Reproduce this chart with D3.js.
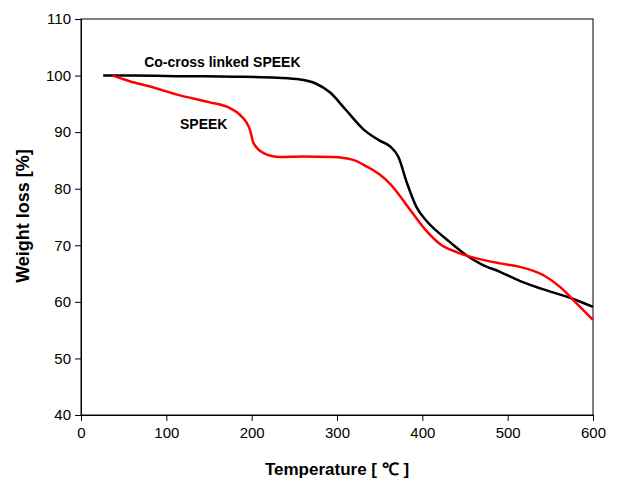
<!DOCTYPE html>
<html><head><meta charset="utf-8">
<script src="https://cdn.jsdelivr.net/npm/d3@7"></script>
<style>body{margin:0;background:#fff}svg{display:block}</style>
</head><body>
<svg id="c" width="617" height="482"></svg>
<script>
const xTicks = [0,100,200,300,400,500,600];
const yTicks = [40,50,60,70,80,90,100,110];
const crossT = [26,60,120,180,230,257,275,292,310,331,350,362,372,382,393,405,420,432,452,470,491,514,540,577,600];
const crossW = [100,100,99.9,99.8,99.6,99.3,98.6,97.0,94.0,90.5,88.5,87.5,85.6,81.0,76.8,74.3,72.1,70.6,68.2,66.6,65.3,63.7,62.3,60.5,59.1];
const speekT = [37,45,57,80,116,150,175,186,198,202,214,233,260,295,319,335,350,362,386,405,421,440,456,491,514,542,561,581,600];
const speekW = [100,99.6,99.0,98.1,96.5,95.3,94.2,93.1,90.4,88.1,86.3,85.6,85.7,85.6,85.1,83.9,82.5,80.9,76.2,72.5,70.2,68.8,68.0,66.8,66.2,64.7,62.7,59.7,56.8];
const labels = [
  {text:"Co-cross linked SPEEK", t:74, w:101.6},
  {text:"SPEEK", t:116, w:90.5}
];

const svg = d3.select("#c");
const m = {l:81, r:593, t:19, b:415};
const x = d3.scaleLinear().domain([0,600]).range([m.l, m.r]);
const y = d3.scaleLinear().domain([40,110]).range([m.b, m.t]);

svg.append("rect").attr("x",m.l).attr("y",m.t).attr("width",m.r-m.l).attr("height",m.b-m.t)
  .attr("fill","none").attr("stroke","#000").attr("stroke-width",1);

const font = "'Liberation Sans', Arial, sans-serif";
const gx = svg.append("g").attr("transform",`translate(0,${m.b})`)
  .call(d3.axisBottom(x).tickValues(xTicks).tickSize(6).tickPadding(6));
const gy = svg.append("g").attr("transform",`translate(${m.l},0)`)
  .call(d3.axisLeft(y).tickValues(yTicks).tickSize(6).tickPadding(4));
[gx,gy].forEach(g=>{
  g.select(".domain").attr("stroke","#000");
  g.selectAll(".tick line").attr("stroke","#000");
  g.selectAll("text").attr("font-family",font).attr("font-size",15).attr("fill","#000");
});

const line = d3.line().x(d=>x(d[0])).y(d=>y(d[1])).curve(d3.curveMonotoneX);
svg.append("path").datum(crossT.map((t,i)=>[t,crossW[i]]))
  .attr("d",line).attr("fill","none").attr("stroke","#000").attr("stroke-width",2.5);
svg.append("path").datum(speekT.map((t,i)=>[t,speekW[i]]))
  .attr("d",line).attr("fill","none").attr("stroke","#ff0000").attr("stroke-width",2.5);

labels.forEach(l=>{
  svg.append("text").attr("x",x(l.t)).attr("y",y(l.w)).text(l.text)
    .attr("font-family",font).attr("font-weight","bold").attr("font-size",14).attr("text-anchor","start");
});

svg.append("text").attr("x",337).attr("y",475).attr("text-anchor","middle")
  .attr("font-family",font).attr("font-weight","bold").attr("font-size",17).text("Temperature [ ℃ ]");
svg.append("text").attr("transform","translate(29,216) rotate(-90)").attr("text-anchor","middle")
  .attr("font-family",font).attr("font-weight","bold").attr("font-size",18).text("Weight loss [%]");
</script>
</body></html>
